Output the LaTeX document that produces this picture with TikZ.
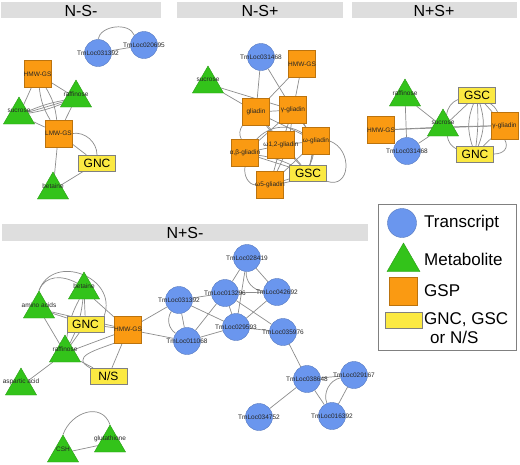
\documentclass[tikz,border=0pt]{standalone}
\usepackage{fontspec}
\setmainfont{Liberation Sans}
\usetikzlibrary{shapes.geometric}
\definecolor{tblue}{HTML}{6A96EE}
\definecolor{mgreen}{HTML}{33C31A}
\definecolor{gorange}{HTML}{FA9A12}
\definecolor{yellowc}{HTML}{FBE942}
\definecolor{barc}{HTML}{DEDEDE}
\definecolor{edgec}{HTML}{8C8C8C}
\pgfdeclarelayer{bg}
\pgfsetlayers{bg,main}
\tikzset{
  tr/.style={circle, fill=tblue, draw=tblue!80!black, line width=0.4pt, minimum size=27, inner sep=0},
  met/.style={regular polygon, regular polygon sides=3, minimum size=36, inner sep=0, fill=mgreen, draw=mgreen!80!black, line width=0.4pt},
  gsp/.style={rectangle, minimum size=27, inner sep=0, fill=gorange, draw=gorange!75!black, line width=0.4pt},
  yb/.style={rectangle, minimum width=37, minimum height=16, inner sep=0, fill=yellowc, draw=gray, line width=0.4pt, font=\fontsize{12}{12}\selectfont},
  lbl/.style={font=\fontsize{6.5}{7}\selectfont, text=black!85, inner sep=0},
  edge/.style={draw=edgec, line width=0.7pt},
  barbox/.style={fill=barc, draw=none},
  ttl/.style={font=\fontsize{16}{16}\selectfont, inner sep=0},
  legtxt/.style={font=\fontsize{17}{17}\selectfont, anchor=west, inner sep=0}
}
\begin{document}
\begin{tikzpicture}[x=1pt,y=-1pt]
\useasboundingbox (0,0) rectangle (520,464);
% title bars
\fill[barc] (1,2) rectangle (161,18);
\node[ttl] (t1) at (81,10.5) {N-S-};
\fill[barc] (177,2) rectangle (343,18);
\node[ttl] (t2) at (260,10.5) {N-S+};
\fill[barc] (352,2) rectangle (517,18);
\node[ttl] (t3) at (434,10.5) {N+S+};
\fill[barc] (2,224) rectangle (368,241);
\node[ttl] (t4) at (185,233) {N+S-};

% ---------- N-S- ----------
\node[tr, label={[lbl]center:TmLoc031392}] (a1) at (98,53) {};
\node[tr, label={[lbl]center:TmLoc020695}] (a2) at (144,45) {};
\node[gsp, label={[lbl]center:HMW-GS}] (aHMW) at (37.5,74) {};
\node[met, label={[lbl,yshift=4]center:raffinose}] (aRaf) at (76,98) {};
\node[met, label={[lbl,yshift=4]center:sucrose}] (aSuc) at (19,115) {};
\node[gsp, label={[lbl]center:LMW-GS}] (aLMW) at (58.5,133.5) {};
\node[yb] (aGNC) at (97,163) {GNC};
\node[met, label={[lbl,yshift=4]center:betaine}] (aBet) at (53,190) {};
\begin{pgfonlayer}{bg}
\draw[edge] (a1) -- (a2);
\draw[edge] (a1.north) to[out=80,in=110] (a2.north west);
\draw[edge] (aHMW) -- (aRaf);
\draw[edge] (aHMW) -- (aSuc);
\draw[edge] (aHMW) to[bend left=12] (aLMW);
\draw[edge] (aHMW) to[bend right=12] (aLMW);
\draw[edge] (aSuc) -- (aRaf);
\draw[edge] (aSuc) to[bend left=6] (aRaf);
\draw[edge] (aSuc) to[bend right=6] (aRaf);
\draw[edge] (aSuc) -- (aLMW);
\draw[edge] (aRaf) -- (aLMW);
\draw[edge] (aLMW) -- (aGNC);
\draw[edge] (aLMW.east) to[out=10,in=90] (aGNC.north);
\draw[edge] (aLMW) -- (aBet);
\draw[edge] (aGNC) -- (aBet);
\end{pgfonlayer}

% ---------- N-S+ ----------
\node[tr, label={[lbl]center:TmLoc031468}] (bT) at (261,57) {};
\node[gsp, label={[lbl]center:HMW-GS}] (bHMW) at (302,64) {};
\node[met, label={[lbl,yshift=4]center:sucrose}] (bSuc) at (208,84) {};
\node[gsp, label={[lbl]center:gliadin}] (bGli) at (256,112) {};
\node[gsp, label={[lbl]center:γ-gliadin}] (bGam) at (293,110) {};
\node[gsp, label={[lbl]center:ω1,2-gliadin}] (bO12) at (281,145) {};
\node[gsp, label={[lbl]center:ω-gliadin}] (bOme) at (316,141) {};
\node[gsp, label={[lbl]center:α,β-gliadin}] (bAB) at (245,153) {};
\node[yb] (bGSC) at (308,173) {GSC};
\node[gsp, label={[lbl]center:ω5-gliadin}] (bO5) at (270,185) {};
\begin{pgfonlayer}{bg}
\draw[edge] (bT) -- (bGli);
\draw[edge] (bT) -- (bGam);
\draw[edge] (bHMW) -- (bGli);
\draw[edge] (bHMW) -- (bGam);
\draw[edge] (bSuc) -- (bGli);
\draw[edge] (bSuc) -- (bGam);
\draw[edge] (bGli) -- (bGam);
\draw[edge] (bGli) -- (bO12);
\draw[edge] (bGli) -- (bOme);
\draw[edge] (bGli) to[bend right=30] (bAB);
\draw[edge] (bGli) -- (bGSC);
\draw[edge] (bGam) -- (bO12);
\draw[edge] (bGam) -- (bAB);
\draw[edge] (bGam) -- (bOme);
\draw[edge] (bGam) to[bend left=10] (bO5);
\draw[edge] (bGam) to[bend left=25] (bGSC);
\draw[edge] (bAB) -- (bO12);
\draw[edge] (bAB) -- (bGSC);
\draw[edge] (bAB) to[bend left=8] (bGSC);
\draw[edge] (bAB.south) to[out=-100,in=180] (bO5.west);
\draw[edge] (bAB) to[bend left=40] (bOme);
\draw[edge] (bO12) -- (bOme);
\draw[edge] (bO12) -- (bGSC);
\draw[edge] (bO12) -- (bO5);
\draw[edge] (bOme) -- (bGSC);
\draw[edge] (bOme) -- (bO5);
\draw[edge] (bOme.east) to[out=-20,in=-20,looseness=1.6] (bGSC.south east);
\draw[edge] (bO5) -- (bGSC);
\draw[edge] (bO5) to[bend right=35] (bOme);
\end{pgfonlayer}

% ---------- N+S+ ----------
\node[met, label={[lbl,yshift=4]center:raffinose}] (cRaf) at (405,97) {};
\node[yb] (cGSC) at (477,95) {GSC};
\node[gsp, label={[lbl]center:HMW-GS}] (cHMW) at (381,130) {};
\node[met, label={[lbl,yshift=4]center:sucrose}] (cSuc) at (443,127) {};
\node[gsp, label={[lbl]center:γ-gliadin}] (cGam) at (504.5,125.5) {};
\node[tr, label={[lbl]center:TmLoc031468}] (cT) at (407,151) {};
\node[yb] (cGNC) at (475,154) {GNC};
\begin{pgfonlayer}{bg}
\draw[edge] (cRaf) -- (cSuc);
\draw[edge] (cRaf) -- (cT);
\draw[edge] (cHMW) -- (cGam);
\draw[edge] (cHMW) -- (cSuc);
\draw[edge] (cSuc) -- (cT);
\draw[edge] (cSuc) -- (cGSC);
\draw[edge] (cSuc) to[bend right=25] (cGNC);
\draw[edge] (cSuc) -- (cGam);
\draw[edge] (cGSC) to[bend left=20] (cGNC);
\draw[edge] (cGSC) to[bend right=20] (cGNC);
\draw[edge] (cGSC) to[bend left=5] (cGNC);
\draw[edge] (cGSC) to[bend left=15] (cGam);
\draw[edge] (cGSC) -- (cGam);
\draw[edge] (cGSC) to[bend right=30] (cSuc);
\draw[edge] (cGNC) -- (cGam);
\draw[edge] (cGNC.east) to[out=0,in=-60,looseness=1.4] (cGam.south);
\end{pgfonlayer}

% ---------- N+S- ----------
\node[met, label={[lbl,yshift=4]center:betaine}] (dBet) at (84,290) {};
\node[met, label={[lbl,yshift=4]center:amino acids}] (dAmi) at (39,309) {};
\node[yb] (dGNC) at (85.5,324) {GNC};
\node[gsp, label={[lbl]center:HMW-GS}] (dHMW) at (128,329.5) {};
\node[met, label={[lbl,yshift=4]center:raffinose}] (dRaf) at (65,353) {};
\node[yb] (dNS) at (108.5,376) {N/S};
\node[met, label={[lbl,yshift=4]center:aspartic acid}] (dAsp) at (21,386) {};
\node[met, label={[lbl,yshift=4]center:CSH}] (dCSH) at (63,453) {};
\node[met, label={[lbl,yshift=4]center:glutathione}] (dGlu) at (110,443) {};
\node[tr, label={[lbl]center:TmLoc028419}] (d028419) at (247,258) {};
\node[tr, label={[lbl]center:TmLoc013296}] (d013296) at (225,293) {};
\node[tr, label={[lbl]center:TmLoc042692}] (d042692) at (277,292) {};
\node[tr, label={[lbl]center:TmLoc031392}] (d031392) at (179,300) {};
\node[tr, label={[lbl]center:TmLoc029593}] (d029593) at (236,327) {};
\node[tr, label={[lbl]center:TmLoc035976}] (d035976) at (283,332) {};
\node[tr, label={[lbl]center:TmLoc011068}] (d011068) at (187,341) {};
\node[tr, label={[lbl]center:TmLoc038648}] (d038648) at (307,379) {};
\node[tr, label={[lbl]center:TmLoc029167}] (d029167) at (354,375) {};
\node[tr, label={[lbl]center:TmLoc034752}] (d034752) at (259,417) {};
\node[tr, label={[lbl]center:TmLoc016392}] (d016392) at (332,416) {};
\begin{pgfonlayer}{bg}
\draw[edge] (dAmi.north) to[out=70,in=150,looseness=1.1] (dBet.north west);
\draw[edge] (dAmi.north) to[out=70,in=70,looseness=1.5] (dGNC.north east);
\draw[edge] (dBet) -- (dGNC);
\draw[edge] (dBet) to[bend left=10] (dRaf);
\draw[edge] (dBet) to[bend right=10] (dRaf);
\draw[edge] (dBet) -- (dHMW);
\draw[edge] (dAmi) -- (dGNC);
\draw[edge] (dAmi) -- (dRaf);
\draw[edge] (dAmi) -- (dHMW);
\draw[edge] (dGNC) -- (dHMW);
\draw[edge] (dGNC) -- (dRaf);
\draw[edge] (dRaf) -- (dHMW);
\draw[edge] (dRaf) -- (dNS);
\draw[edge] (dHMW) -- (dNS);
\draw[edge] (dHMW.south west) to[out=200,in=150,looseness=1.6] (dNS.north west);
\draw[edge] (dRaf) -- (dAsp);
\draw[edge] (dCSH) -- (dGlu);
\draw[edge] (dCSH.north) to[out=70,in=110,looseness=1.3] (dGlu.north);
\draw[edge] (dHMW) -- (d031392);
\draw[edge] (dHMW) -- (d011068);
\draw[edge] (d031392) -- (d011068);
\draw[edge] (d031392) to[bend right=45] (d011068);
\draw[edge] (d031392) -- (d013296);
\draw[edge] (d031392) -- (d029593);
\draw[edge] (d011068) -- (d013296);
\draw[edge] (d011068) -- (d029593);
\draw[edge] (d013296) -- (d028419);
\draw[edge] (d013296) -- (d042692);
\draw[edge] (d013296) -- (d029593);
\draw[edge] (d013296) -- (d035976);
\draw[edge] (d028419) -- (d042692);
\draw[edge] (d028419) to[bend right=45] (d042692);
\draw[edge] (d028419) -- (d029593);
\draw[edge] (d042692) -- (d029593);
\draw[edge] (d029593) -- (d035976);
\draw[edge] (d035976) -- (d038648);
\draw[edge] (d038648) -- (d029167);
\draw[edge] (d038648) -- (d016392);
\draw[edge] (d038648) -- (d034752);
\draw[edge] (d029167) -- (d016392);
\draw[edge] (d029167) to[bend right=50] (d016392);
\end{pgfonlayer}

% ---------- legend ----------
\draw[gray, line width=0.6pt, fill=white] (378,204) rectangle (516,350);
\node[tr, minimum size=29] (lT) at (402,223) {};
\node[legtxt] (lTt) at (424,223) {Transcript};
\node[met, minimum size=38] (lM) at (403.5,262) {};
\node[legtxt] (lMt) at (424,259) {Metabolite};
\node[gsp, minimum size=28] (lG) at (403,291) {};
\node[legtxt] (lGt) at (424,291) {GSP};
\node[yb, minimum width=37, minimum height=16] (lY) at (403.5,320) {};
\node[legtxt] (lYt1) at (424,320) {GNC, GSC};
\node[legtxt] (lYt2) at (430,337) {or N/S};
\end{tikzpicture}
\end{document}
